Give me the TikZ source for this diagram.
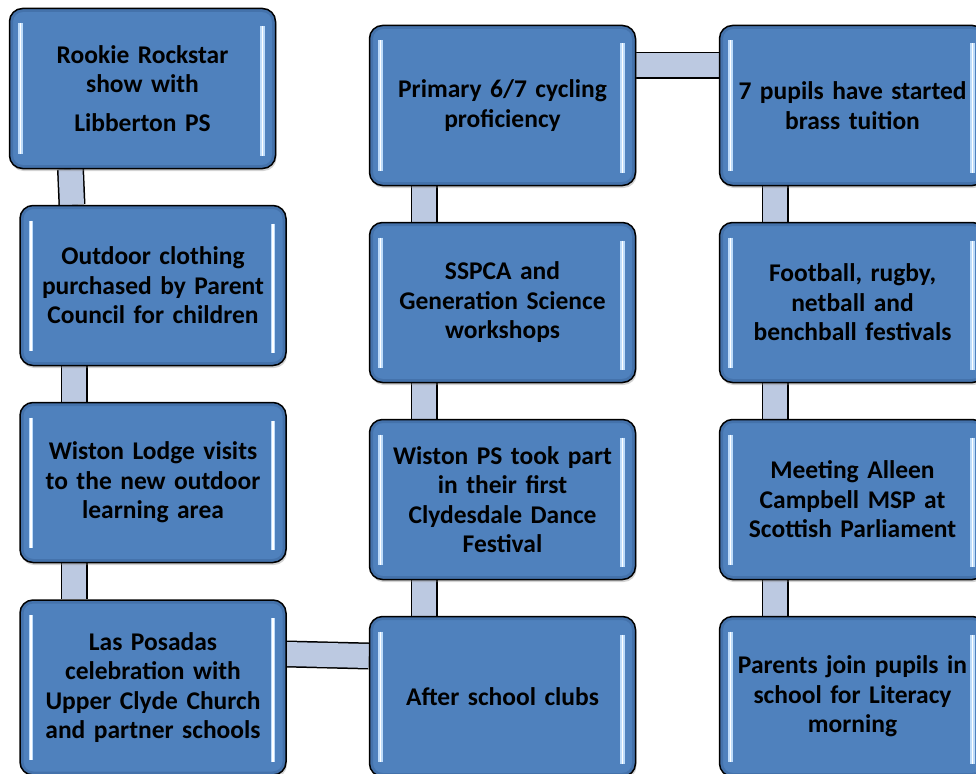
\documentclass[tikz,border=0pt]{standalone}
\usepackage{fontspec}
\setmainfont{Carlito}
\usetikzlibrary{positioning}
\usetikzlibrary{backgrounds}
\usetikzlibrary{shadows}
\definecolor{boxblue}{RGB}{79,129,189}
\definecolor{boxedge}{RGB}{56,96,150}
\definecolor{linkfill}{RGB}{188,201,225}
\definecolor{glint}{RGB}{190,220,250}
\tikzset{node distance=197pt,
event/.style={
draw=black, line width=1.5pt,
fill=boxblue,
rounded corners=13pt,
minimum width=266pt, minimum height=160pt,
text width=252pt, align=center,
font=\fontsize{25.5}{29.5}\selectfont\bfseries,
drop shadow={opacity=0.35, shadow xshift=1pt, shadow yshift=-2.5pt},
path picture={
\draw[boxedge, line width=7pt, opacity=0.45, rounded corners=13pt]
(path picture bounding box.south west) rectangle (path picture bounding box.north east);
\draw[glint, line width=1.6pt, double=white, double distance=1.2pt]
([xshift=11pt,yshift=-15pt]path picture bounding box.north west) --
([xshift=11pt,yshift=15pt]path picture bounding box.south west);
\draw[glint, line width=1.6pt, double=white, double distance=1.2pt]
([xshift=-13pt,yshift=-18pt]path picture bounding box.north east) --
([xshift=-13pt,yshift=13pt]path picture bounding box.south east);}},
link/.style={
draw=black, line width=1.5pt,
double=linkfill, double distance=24pt}}

\begin{document}
\begin{tikzpicture}[x=1pt, y=1pt]
\useasboundingbox (0,0) rectangle (976,-773);
\node[event] (rookie) at (142.5,-88.5) {Rookie Rockstar\\ show with\\[9pt] Libberton PS};
\node[event, below of=rookie, xshift=10.5pt] (clothing) {Outdoor clothing\\ purchased by Parent\\ Council for children};
\node[event, below of=clothing] (lodge) {Wiston Lodge visits\\ to the new outdoor\\ learning area};
\node[event, below of=lodge, yshift=-8pt, minimum height=175pt] (posadas) {Las Posadas\\ celebration with\\ Upper Clyde Church\\ and partner schools};
\node[event] (cycling) at (502.5,-105.5) {Primary 6/7 cycling\\ proficiency};
\node[event, below of=cycling] (sspca) {SSPCA and\\ Generation Science\\ workshops};
\node[event, below of=sspca] (dance) {Wiston PS took part\\ in their first\\ Clydesdale Dance\\ Festival};
\node[event, below of=dance] (clubs) {After school clubs};
\node[event, right of=cycling, node distance=350pt] (brass) {7 pupils have started\\ brass tuition};
\node[event, below of=brass] (sports) {Football, rugby,\\ netball and\\ benchball festivals};
\node[event, below of=sports] (meeting) {Meeting Alleen\\ Campbell MSP at\\ Scottish Parliament};
\node[event, below of=meeting] (literacy) {Parents join pupils in\\ school for Literacy\\ morning};
\begin{scope}[on background layer]
\draw[link] ([xshift=-72pt]rookie.south) -- ([xshift=-81pt]clothing.north);
\draw[link] ([xshift=-79pt]clothing.south) -- ([xshift=-79pt]lodge.north);
\draw[link] ([xshift=-79pt]lodge.south) -- ([xshift=-79pt]posadas.north);
\draw[link] ([yshift=33.5pt]posadas.east) -- ([yshift=40.5pt]clubs.west);
\draw[link] ([xshift=-78.5pt]clubs.north) -- ([xshift=-78.5pt]dance.south);
\draw[link] ([xshift=-78.5pt]dance.north) -- ([xshift=-78.5pt]sspca.south);
\draw[link] ([xshift=-78.5pt]sspca.north) -- ([xshift=-78.5pt]cycling.south);
\draw[link] ([yshift=40pt]cycling.east) -- ([yshift=40pt]brass.west);
\draw[link] ([xshift=-77.5pt]brass.south) -- ([xshift=-77.5pt]sports.north);
\draw[link] ([xshift=-77.5pt]sports.south) -- ([xshift=-77.5pt]meeting.north);
\draw[link] ([xshift=-77.5pt]meeting.south) -- ([xshift=-77.5pt]literacy.north);
\end{scope}
\end{tikzpicture}
\end{document}
